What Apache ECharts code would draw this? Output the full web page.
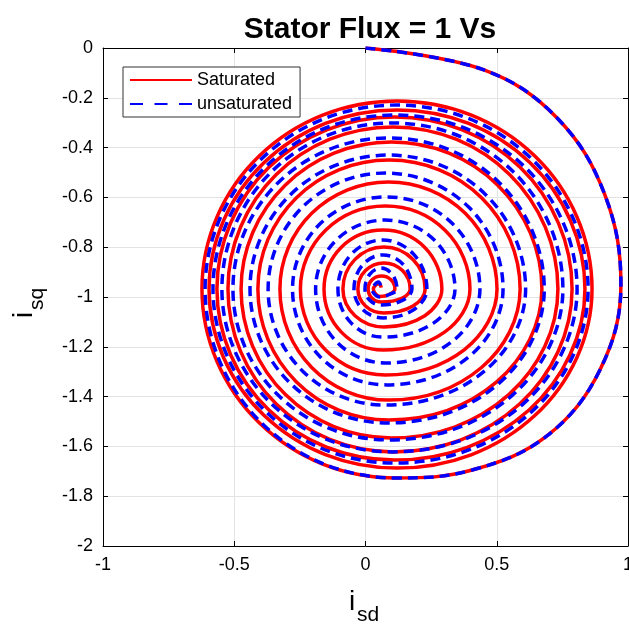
<!DOCTYPE html>
<html><head><meta charset="utf-8">
<script src="https://cdn.jsdelivr.net/npm/echarts@6/dist/echarts.min.js"></script>
<style>html,body{margin:0;padding:0;background:#fff}#c{width:629px;height:624px}</style>
</head><body><div id="c"></div>
<script>
// ---- data ----
const titleText = 'Stator Flux = 1 Vs';
const seriesNames = ['Saturated', 'unsaturated'];
const xRange = [-1, 1];   // ticks -1, -0.5, 0, 0.5, 1
const xStep = 0.5;
const yRange = [-2, 0];   // ticks -2 ... 0
const yStep = 0.2;

// shared first swing (both curves coincide) [i_sd, i_sq]
const firstSwing = [
[0,0],[0.451,-0.088],[0.730,-0.281],[0.912,-0.590],[0.973,-0.952],
[0.893,-1.293],[0.691,-1.558],[0.406,-1.695]
];

// saturated trajectory after the first swing [i_sd, i_sq]
const saturatedRings = [
[0.120,-1.727],[-0.405,-1.505],[-0.623,-0.968],[-0.405,-0.434],[0.120,-0.213],[0.645,-0.434],[0.863,-0.968],[0.645,-1.476],
[0.120,-1.687],[-0.386,-1.476],[-0.596,-0.968],[-0.386,-0.460],[0.120,-0.249],[0.626,-0.460],[0.836,-0.968],[0.623,-1.454],
[0.110,-1.655],[-0.368,-1.454],[-0.566,-0.968],[-0.368,-0.479],[0.110,-0.277],[0.589,-0.479],[0.787,-0.968],[0.587,-1.430],
[0.105,-1.622],[-0.340,-1.430],[-0.524,-0.968],[-0.340,-0.508],[0.105,-0.317],[0.549,-0.508],[0.733,-0.968],[0.547,-1.391],
[0.099,-1.566],[-0.306,-1.391],[-0.474,-0.968],[-0.306,-0.551],[0.099,-0.378],[0.504,-0.551],[0.672,-0.968],[0.501,-1.340],
[0.090,-1.494],[-0.264,-1.340],[-0.410,-0.968],[-0.264,-0.602],[0.090,-0.450],[0.443,-0.602],[0.589,-0.968],[0.442,-1.283],
[0.088,-1.414],[-0.205,-1.283],[-0.326,-0.968],[-0.205,-0.664],[0.088,-0.538],[0.380,-0.664],[0.501,-0.968],[0.376,-1.212],
[0.076,-1.313],[-0.153,-1.212],[-0.248,-0.968],[-0.153,-0.733],[0.076,-0.635],[0.304,-0.733],[0.398,-0.968],[0.301,-1.141],
[0.067,-1.213],[-0.092,-1.141],[-0.158,-0.968],[-0.092,-0.800],[0.067,-0.731],[0.225,-0.800],[0.291,-0.968],[0.226,-1.075],
[0.070,-1.120],[-0.040,-1.075],[-0.086,-0.968],[-0.040,-0.849],[0.070,-0.799],[0.181,-0.849],[0.227,-0.968],[0.181,-1.036],
[0.070,-1.064],[0.000,-1.036],[-0.029,-0.968],[0.000,-0.894],[0.070,-0.863],[0.141,-0.894],[0.170,-0.968],[0.138,-1.005],
[0.061,-1.020],[0.025,-1.005],[0.010,-0.968],[0.025,-0.931],[0.061,-0.916],[0.097,-0.931],[0.112,-0.968],[0.090,-0.990],
[0.055,-0.998],[0.030,-0.968],[0.052,-0.945],[0.060,-0.962]
];

// unsaturated trajectory after the first swing [i_sd, i_sq]
const unsaturatedRings = [
[0.120,-1.727],[-0.397,-1.505],[-0.611,-0.968],[-0.397,-0.446],[0.118,-0.229],[0.634,-0.446],[0.848,-0.968],[0.632,-1.462],
[0.112,-1.667],[-0.378,-1.462],[-0.581,-0.968],[-0.378,-0.474],[0.112,-0.269],[0.603,-0.474],[0.806,-0.968],[0.600,-1.430],
[0.103,-1.622],[-0.357,-1.430],[-0.547,-0.968],[-0.357,-0.496],[0.103,-0.301],[0.562,-0.496],[0.752,-0.968],[0.558,-1.396],
[0.090,-1.574],[-0.331,-1.396],[-0.505,-0.968],[-0.331,-0.539],[0.090,-0.361],[0.508,-0.539],[0.681,-0.968],[0.507,-1.348],
[0.088,-1.506],[-0.285,-1.348],[-0.440,-0.968],[-0.285,-0.588],[0.088,-0.430],[0.457,-0.588],[0.610,-0.968],[0.454,-1.297],
[0.076,-1.434],[-0.240,-1.297],[-0.371,-0.968],[-0.240,-0.639],[0.076,-0.502],[0.393,-0.639],[0.524,-0.968],[0.394,-1.240],
[0.080,-1.353],[-0.173,-1.240],[-0.278,-0.968],[-0.173,-0.706],[0.080,-0.598],[0.332,-0.706],[0.436,-0.968],[0.331,-1.178],
[0.076,-1.265],[-0.112,-1.178],[-0.190,-0.968],[-0.112,-0.772],[0.076,-0.691],[0.263,-0.772],[0.341,-0.968],[0.260,-1.104],
[0.065,-1.161],[-0.055,-1.104],[-0.105,-0.968],[-0.055,-0.829],[0.065,-0.771],[0.184,-0.829],[0.234,-0.968],[0.185,-1.050],
[0.067,-1.084],[-0.011,-1.050],[-0.044,-0.968],[-0.011,-0.871],[0.067,-0.831],[0.145,-0.871],[0.177,-0.968],[0.142,-1.013],
[0.059,-1.032],[0.016,-1.013],[-0.002,-0.968],[0.016,-0.909],[0.059,-0.884],[0.102,-0.909],[0.120,-0.968],[0.090,-0.990],
[0.055,-1.000],[0.025,-0.970],[0.050,-0.940],[0.060,-0.965]
];

const saturated = firstSwing.concat(saturatedRings);
const unsaturated = firstSwing.concat(unsaturatedRings);

// ---- chart ----
const FONT = 'Liberation Sans, Arial, sans-serif';
const chart = echarts.init(document.getElementById('c'), null, {renderer: 'canvas'});

function axisCommon(showLabel) {
  return {
    axisLine: {show: true, onZero: false, lineStyle: {color: '#000', width: 1}},
    axisTick: {show: true, inside: true, length: 5, lineStyle: {color: '#000', width: 1}},
    axisLabel: {show: showLabel, color: '#000', fontSize: 18, fontFamily: FONT, margin: 10},
    splitLine: {show: showLabel, lineStyle: {color: '#e3e3e3', width: 1}}
  };
}

chart.setOption({
  animation: false,
  backgroundColor: '#fff',
  title: {
    text: titleText, left: 365, top: 10, textAlign: 'center',
    textStyle: {fontSize: 30, fontWeight: 'bold', color: '#000', fontFamily: FONT}
  },
  grid: {left: 103, right: 1, top: 48, bottom: 78, containLabel: false, outerBoundsMode: 'none'},
  xAxis: [
    Object.assign({type: 'value', min: xRange[0], max: xRange[1], interval: xStep, position: 'bottom'}, axisCommon(true)),
    Object.assign({type: 'value', min: xRange[0], max: xRange[1], interval: xStep, position: 'top'}, axisCommon(false))
  ],
  yAxis: [
    Object.assign({type: 'value', min: yRange[0], max: yRange[1], interval: yStep, position: 'left'}, axisCommon(true)),
    Object.assign({type: 'value', min: yRange[0], max: yRange[1], interval: yStep, position: 'right'}, axisCommon(false))
  ],
  legend: {
    orient: 'vertical', left: 123, top: 67,
    data: [
      {name: seriesNames[0]},
      {name: seriesNames[1], lineStyle: {type: [13, 11.5]}}
    ],
    itemWidth: 62, itemHeight: 14, itemGap: 6,
    padding: [4, 8, 4, 6],
    backgroundColor: '#fff', borderColor: '#333', borderWidth: 1,
    itemStyle: {opacity: 0},
    textStyle: {fontSize: 18, color: '#000', fontFamily: FONT}
  },
  graphic: [
    {type: 'text', x: 349, y: 602, style: {text: 'i', fontSize: 28, fontFamily: FONT, fill: '#000', align: 'left', verticalAlign: 'middle'}},
    {type: 'text', x: 357, y: 615, style: {text: 'sd', fontSize: 21, fontFamily: FONT, fill: '#000', align: 'left', verticalAlign: 'middle'}},
    {type: 'group', x: 24, y: 318, rotation: Math.PI / 2, children: [
      {type: 'text', x: 0, y: 0, style: {text: 'i', fontSize: 28, fontFamily: FONT, fill: '#000', align: 'left', verticalAlign: 'middle'}},
      {type: 'text', x: 8, y: 13, style: {text: 'sq', fontSize: 21, fontFamily: FONT, fill: '#000', align: 'left', verticalAlign: 'middle'}}
    ]}
  ],
  series: [
    {name: seriesNames[0], type: 'line', data: saturated, smooth: 0.375, symbol: 'none', showSymbol: false,
     lineStyle: {color: '#ff0000', width: 3.5}, itemStyle: {color: '#ff0000'}, z: 2},
    {name: seriesNames[1], type: 'line', data: unsaturated, smooth: 0.375, symbol: 'none', showSymbol: false,
     lineStyle: {color: '#0000ff', width: 3.5, type: [10, 6]}, itemStyle: {color: '#0000ff'}, z: 3}
  ]
});
</script></body></html>
